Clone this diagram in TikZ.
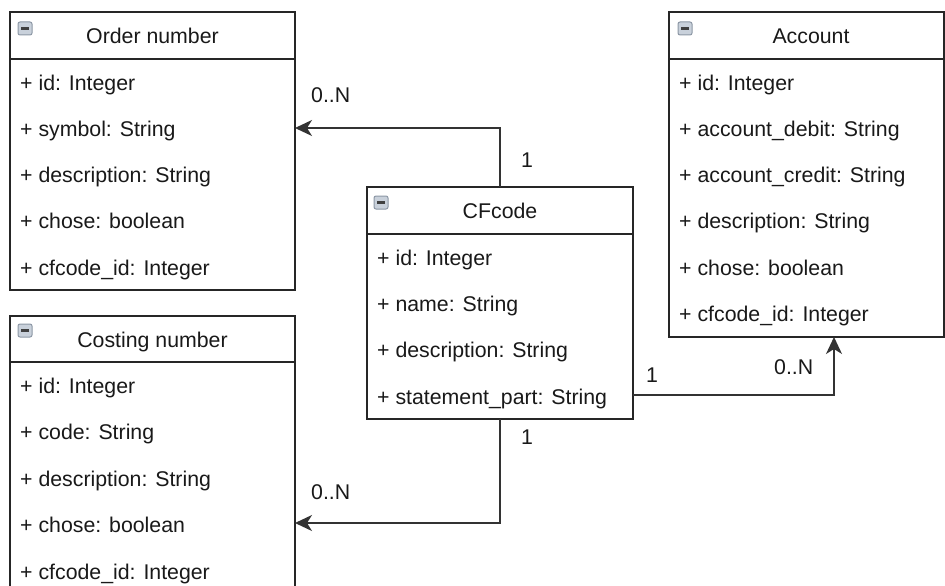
\documentclass[tikz,border=0pt]{standalone}
\usepackage{fontspec}
\setmainfont{Liberation Sans}
\usetikzlibrary{arrows.meta}
\definecolor{iconfill}{HTML}{C9D1DB}
\definecolor{iconedge}{HTML}{8C97A5}
\begin{document}
\begin{tikzpicture}[x=1pt,y=-1pt,
  classbox/.style={draw=black!85, line width=1.3pt, fill=white, anchor=north west, inner sep=0, outer sep=0},
  sep/.style={draw=black!85, line width=1.3pt},
  row/.style={anchor=base west, inner sep=0, font=\fontsize{21.3}{25}\selectfont, text=black!90},
  title/.style={anchor=base, inner sep=0, font=\fontsize{21.3}{25}\selectfont, text=black!90},
  mult/.style={anchor=base west, inner sep=0, font=\fontsize{21.3}{25}\selectfont, text=black!90},
  icon/.style={draw=iconedge, line width=1pt, fill=iconfill, rounded corners=2pt, minimum width=14pt, minimum height=13pt, inner sep=0,
    path picture={\draw[line width=2.4pt, black!75] ([xshift=-4pt]path picture bounding box.center) -- ([xshift=4pt]path picture bounding box.center);}},
  link/.style={draw=black!80, line width=1.3pt, -{Stealth[length=17pt, width=16pt, inset=5pt]}}
]
\clip (0,0) rectangle (945,586);
\fill[white] (0,0) rectangle (945,586);

% Order number
\node[classbox, minimum width=285pt, minimum height=278pt] (order) at (10,12) {};
\draw[sep] (order.west |- 0,59) -- (order.east |- 0,59);
\node[icon] (oicon) at (25,28.5) {};
\node[title] (otitle) at (order.north |- 0,43.5) {Order number};
\node[row] (o1) at (20,90.5) {+ id: Integer};
\node[row] (o2) at (20,136.5) {+ symbol: String};
\node[row] (o3) at (20,182.5) {+ description: String};
\node[row] (o4) at (20,228.5) {+ chose: boolean};
\node[row] (o5) at (20,275.5) {+ cfcode\_id: Integer};

% Costing number (runs past the lower edge)
\node[classbox, minimum width=285pt, minimum height=300pt] (cost) at (10,316) {};
\draw[sep] (cost.west |- 0,362) -- (cost.east |- 0,362);
\node[icon] (cicon) at (25,330.5) {};
\node[title] (ctitle) at (cost.north |- 0,347.5) {Costing number};
\node[row] (c1) at (20,393.5) {+ id: Integer};
\node[row] (c2) at (20,439.5) {+ code: String};
\node[row] (c3) at (20,486.5) {+ description: String};
\node[row] (c4) at (20,532.5) {+ chose: boolean};
\node[row] (c5) at (20,579.5) {+ cfcode\_id: Integer};

% CFcode
\node[classbox, minimum width=266pt, minimum height=232pt] (cf) at (367,187) {};
\draw[sep] (cf.west |- 0,234) -- (cf.east |- 0,234);
\node[icon] (cficon) at (381,202.5) {};
\node[title] (cftitle) at (cf.north |- 0,218.5) {CFcode};
\node[row] (f1) at (377,265.5) {+ id: Integer};
\node[row] (f2) at (377,311.5) {+ name: String};
\node[row] (f3) at (377,357.5) {+ description: String};
\node[row] (f4) at (377,404.5) {+ statement\_part: String};

% Account
\node[classbox, minimum width=275pt, minimum height=325pt] (acc) at (669,12) {};
\draw[sep] (acc.west |- 0,59) -- (acc.east |- 0,59);
\node[icon] (aicon) at (685,28.5) {};
\node[title] (atitle) at (811,43.5) {Account};
\node[row] (a1) at (679,90.5) {+ id: Integer};
\node[row] (a2) at (679,136.5) {+ account\_debit: String};
\node[row] (a3) at (679,182.5) {+ account\_credit: String};
\node[row] (a4) at (679,228.5) {+ description: String};
\node[row] (a5) at (679,275.5) {+ chose: boolean};
\node[row] (a6) at (679,321.5) {+ cfcode\_id: Integer};

% Associations
\draw[link] (cf.north) |- (order.east |- 0,128);
\draw[link] (cf.south) |- (cost.east |- 0,523);
\draw[link] (cf.east |- 0,395) -| (acc.south -| 834,0);

% Multiplicities
\node[mult] (m1) at (311,102.5) {0..N};
\node[mult] (m2) at (521,167.5) {1};
\node[mult] (m3) at (646,382.5) {1};
\node[mult] (m4) at (774,374.5) {0..N};
\node[mult] (m5) at (521,444.5) {1};
\node[mult] (m6) at (311,499.5) {0..N};
\end{tikzpicture}
\end{document}
